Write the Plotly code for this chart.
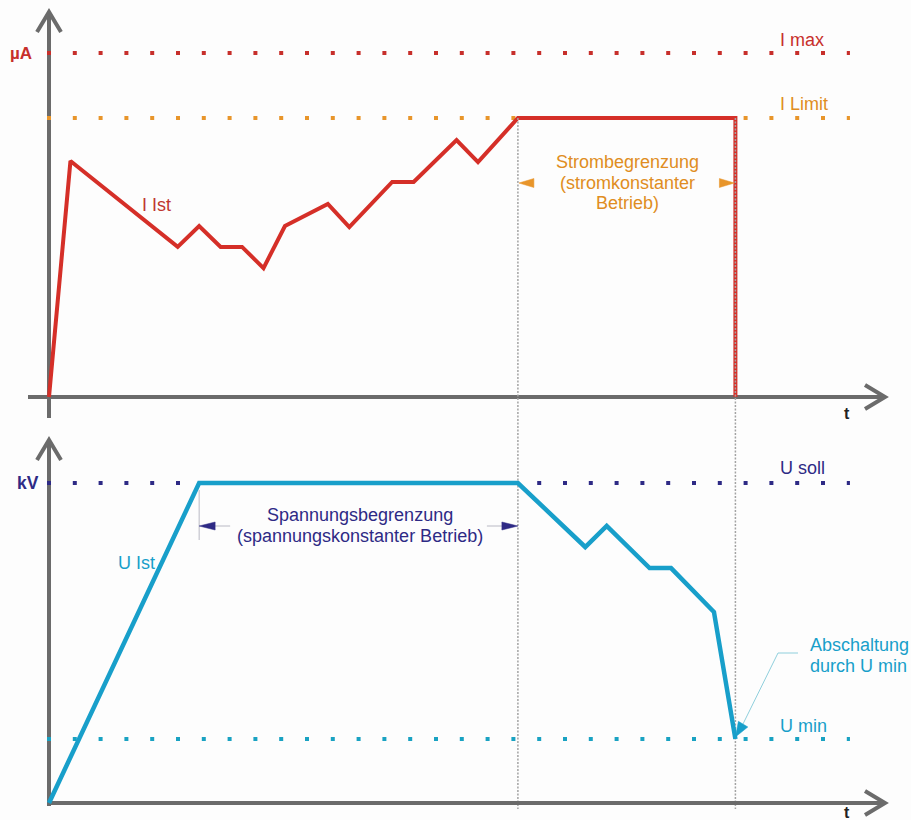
import plotly.graph_objects as go

# ---------------- data (abstract units) ----------------
# current curve I Ist (time units, µA units where I Limit = 100)
T_I = [0, 1, 6, 7, 8, 9, 10, 11, 13, 14, 16, 17, 19, 20, 21.86, 32, 32]
I_IST = [0, 84.6, 53.8, 61.3, 53.8, 53.8, 46.2, 61.3, 69.2, 60.9, 77.1, 77.1, 92.1, 84.2, 100, 100, 0]
# voltage curve U Ist (kV units where U soll = 100)
T_U = [0, 7, 21.86, 25, 26, 28, 29, 31, 32]
U_IST = [0, 100, 100, 80, 86.6, 73.4, 73.4, 59.7, 20]

I_MAX, I_LIMIT = 123.3, 100
U_SOLL, U_MIN = 100, 20
T_U_REACHED = 7       # U soll reached
T_LIMIT = 21.86       # current limit reached
T_OFF = 32            # switch-off through U min
T_REF_END = 37.34     # end of the dotted reference lines

LABEL_IMAX, LABEL_ILIMIT, LABEL_IIST = "I max", "I Limit", "I Ist"
LABEL_USOLL, LABEL_UMIN, LABEL_UIST = "U soll", "U min", "U Ist"
STROM_LINES = ["Strombegrenzung", "(stromkonstanter", "Betrieb)"]
SPANN_LINES = ["Spannungsbegrenzung", "(spannungskonstanter Betrieb)"]
ABSCH_LINES = ["Abschaltung", "durch U min"]

# ---------------- layout constants (pixels) ----------------
W, H = 911, 820
X0, SX = 49, 21.45          # pixel of t=0, pixels per time unit
Y0_I, SI = 397, 2.79        # pixel of I=0, pixels per I unit
Y0_U, SU = 803, 3.2         # pixel of U=0, pixels per U unit

FONT = "Liberation Sans, Arial, sans-serif"
TXT = 18
RED = "#d52f28"
RED_DOT = "#c72f2b"
RED_TXT = "#c0362f"
ORANGE = "#e8952a"
ORANGE_TXT = "#e08d22"
NAVY = "#2e2a85"
CYAN = "#189fca"
CYAN_DOT = "#19a2c2"
AXIS = "#6b6b6b"
GUIDE = "#a3a3a3"


def t_of(px):
    return (px - X0) / SX


def px_x(t):
    return X0 + t * SX


def v_of(py, axis):
    return (Y0_I - py) / SI if axis == "I" else (Y0_U - py) / SU


def px_v(v, axis):
    return Y0_I - v * SI if axis == "I" else Y0_U - v * SU


def yref(axis):
    return "y" if axis == "I" else "y2"


fig = go.Figure()


def add_line(t, v, axis, color, width, dash=None):
    fig.add_trace(go.Scatter(x=t, y=v, yaxis=yref(axis), mode="lines",
                             line=dict(color=color, width=width, dash=dash),
                             hoverinfo="skip", showlegend=False))


def add_px_poly(pts, axis, color, width=None, fill=True):
    xs = [t_of(p[0]) for p in pts]
    ys = [v_of(p[1], axis) for p in pts]
    if fill:
        fig.add_trace(go.Scatter(x=xs, y=ys, yaxis=yref(axis), mode="lines",
                                 fill="toself", fillcolor=color,
                                 line=dict(color=color, width=0.5),
                                 hoverinfo="skip", showlegend=False))
    else:
        fig.add_trace(go.Scatter(x=xs, y=ys, yaxis=yref(axis), mode="lines",
                                 line=dict(color=color, width=width),
                                 hoverinfo="skip", showlegend=False))


def head_pts(tip_t, tip_v, axis, dx, dy, length, halfw):
    tx, ty = px_x(tip_t), px_v(tip_v, axis)
    n = (dx * dx + dy * dy) ** 0.5
    dx, dy = dx / n, dy / n
    bx, by = tx - dx * length, ty - dy * length
    px_, py_ = -dy, dx
    return (tx, ty), (bx + px_ * halfw, by + py_ * halfw), (bx - px_ * halfw, by - py_ * halfw)


def arrowhead(tip_t, tip_v, axis, dx, dy, length, halfw, color):
    tip, a, b = head_pts(tip_t, tip_v, axis, dx, dy, length, halfw)
    add_px_poly([tip, a, b, tip], axis, color)


def chevron(tip_t, tip_v, axis, dx, dy, length=20, halfw=12):
    tip, a, b = head_pts(tip_t, tip_v, axis, dx, dy, length, halfw)
    add_px_poly([a, tip, b], axis, AXIS, width=4, fill=False)


# ---- thin dotted guides at the phase boundaries ----
guide_top_u = v_of(px_v(I_LIMIT, "I"), "U")
guide_bot_u = v_of(809, "U")
for tg in (T_LIMIT, T_OFF):
    add_line([tg, tg], [guide_top_u, guide_bot_u], "U", GUIDE, 1.5, "2px,1.5px")

# ---- axes with open arrow heads ----
T_AX_END = t_of(885)
add_line([t_of(28), T_AX_END], [0, 0], "I", AXIS, 4)
chevron(T_AX_END, 0, "I", 1, 0)
I_AX_TOP = v_of(12, "I")
add_line([0, 0], [v_of(418, "I"), I_AX_TOP], "I", AXIS, 4)
chevron(0, I_AX_TOP, "I", 0, -1)

add_line([0, T_AX_END], [0, 0], "U", AXIS, 4)
chevron(T_AX_END, 0, "U", 1, 0)
U_AX_TOP = v_of(440, "U")
add_line([0, 0], [v_of(806, "U"), U_AX_TOP], "U", AXIS, 4)
chevron(0, U_AX_TOP, "U", 0, -1)

# ---- dotted reference levels ----
DOTS = "4px,21.8px"
t_ref0 = t_of(47)
add_line([t_ref0, T_REF_END], [I_MAX, I_MAX], "I", RED_DOT, 4, DOTS)
add_line([t_ref0, T_REF_END], [I_LIMIT, I_LIMIT], "I", ORANGE, 4, DOTS)
add_line([t_ref0, T_REF_END], [U_SOLL, U_SOLL], "U", NAVY, 4, DOTS)
add_line([t_ref0, T_REF_END], [U_MIN, U_MIN], "U", CYAN_DOT, 4, DOTS)

# ---- measured curves ----
add_line(T_I, I_IST, "I", RED, 4)
add_line(T_U, U_IST, "U", CYAN, 4.5)

# ---- orange range arrows (Strombegrenzung) ----
I_ARR = v_of(183, "I")
arrowhead(T_LIMIT + 1 / SX, I_ARR, "I", -1, 0, 15, 4.5, ORANGE)
arrowhead(T_OFF - 1 / SX, I_ARR, "I", 1, 0, 15, 4.5, ORANGE)

# ---- navy range arrows (Spannungsbegrenzung) ----
U_ARR = v_of(526, "U")
add_line([T_U_REACHED, T_U_REACHED], [v_of(490, "U"), v_of(540, "U")], "U", "#b9b9c4", 1)
add_line([T_U_REACHED + 15 / SX, T_U_REACHED + 31 / SX], [U_ARR, U_ARR], "U", "#b9b9c4", 1)
add_line([T_LIMIT - 31 / SX, T_LIMIT - 15 / SX], [U_ARR, U_ARR], "U", "#b9b9c4", 1)
arrowhead(T_U_REACHED, U_ARR, "U", -1, 0, 16, 4, NAVY)
arrowhead(T_LIMIT, U_ARR, "U", 1, 0, 16, 4, NAVY)

# ---- leader for "Abschaltung durch U min" ----
tip_px = (px_x(T_OFF), px_v(U_MIN, "U") - 2)
leader = [(798, 653), (778, 653), (742, 726)]
add_px_poly(leader, "U", "#8fcfdc", width=1, fill=False)
ldx, ldy = tip_px[0] - 742, tip_px[1] - 726
arrowhead(t_of(tip_px[0]), v_of(tip_px[1], "U"), "U", ldx, ldy, 15, 5.5, CYAN)

# ---------------- text ----------------
ann = []


def label(text, px, py, axis, color, size=TXT, bold=False, xanchor="left"):
    ann.append(dict(x=t_of(px), y=v_of(py, axis), xref="x", yref=yref(axis),
                    text=("<b>%s</b>" % text) if bold else text, showarrow=False,
                    xanchor=xanchor, yanchor="middle",
                    font=dict(family=FONT, size=size, color=color)))


label("µA", 34, 53, "I", RED_DOT, 17, True, "right")
label("kV", 41, 483, "U", NAVY, 17.5, True, "right")
label("t", 847, 413, "I", "#222222", 16, True, "center")
label("t", 847, 812, "U", "#222222", 16, True, "center")

label(LABEL_IMAX, 778, 40, "I", RED_DOT)
label(LABEL_ILIMIT, 778, 104, "I", ORANGE_TXT)
label(LABEL_IIST, 140, 205, "I", RED_TXT)
for line_txt, py in zip(STROM_LINES, (162, 183, 203)):
    label(line_txt, 627, py, "I", ORANGE_TXT, TXT, False, "center")

label(LABEL_USOLL, 778, 468, "U", NAVY)
label(LABEL_UMIN, 778, 726, "U", CYAN)
label(LABEL_UIST, 116, 563, "U", CYAN)
for line_txt, py in zip(SPANN_LINES, (515, 536)):
    label(line_txt, 360, py, "U", NAVY, TXT, False, "center")
for line_txt, py in zip(ABSCH_LINES, (645, 666)):
    label(line_txt, 808, py, "U", CYAN, TXT)

fig.update_layout(
    width=W, height=H,
    margin=dict(l=0, r=0, t=0, b=0),
    paper_bgcolor="#fdfdfd", plot_bgcolor="#fdfdfd",
    showlegend=False,
    xaxis=dict(visible=False, range=[t_of(0), t_of(W)], domain=[0, 1], fixedrange=True),
    yaxis=dict(visible=False, range=[v_of(H, "I"), v_of(0, "I")], domain=[0, 1], fixedrange=True),
    yaxis2=dict(visible=False, range=[v_of(H, "U"), v_of(0, "U")], domain=[0, 1],
                overlaying="y", fixedrange=True),
    annotations=ann,
)

fig.write_html("out.html", config={"displayModeBar": False},
               post_script="document.body.style.margin='0';document.body.style.overflow='hidden';")
